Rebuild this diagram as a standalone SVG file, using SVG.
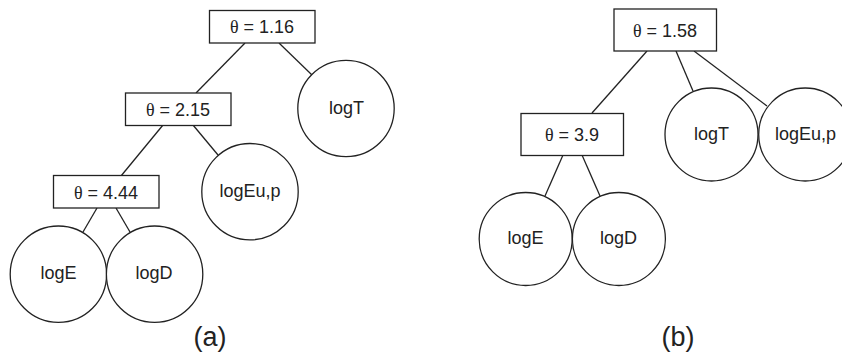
<svg xmlns="http://www.w3.org/2000/svg" width="842" height="357" viewBox="0 0 842 357">
<style>
.box{fill:#fff;stroke:#222;stroke-width:1.3}
.leaf{fill:#fff;stroke:#222;stroke-width:1.3}
.edge{stroke:#222;stroke-width:1.3;fill:none}
text{font-family:"Liberation Sans",Arial,sans-serif;font-size:18px;fill:#222;text-anchor:middle}
.th{font-family:"Liberation Serif","Times New Roman",serif}
.cap{font-size:27px}
</style>
<rect width="842" height="357" fill="#fff"/>
<g id="connectors">
<line class="edge" x1="245" y1="43" x2="196" y2="93"/>
<line class="edge" x1="279" y1="43" x2="312" y2="75"/>
<line class="edge" x1="163" y1="125" x2="121" y2="176"/>
<line class="edge" x1="193" y1="125" x2="218" y2="155"/>
<line class="edge" x1="97" y1="208" x2="83" y2="232"/>
<line class="edge" x1="116" y1="208" x2="130" y2="232"/>
<line class="edge" x1="647" y1="51" x2="592" y2="113"/>
<line class="edge" x1="676" y1="51" x2="693" y2="91"/>
<line class="edge" x1="694" y1="51" x2="767" y2="106"/>
<line class="edge" x1="563" y1="155" x2="545" y2="196"/>
<line class="edge" x1="582" y1="155" x2="600" y2="196"/>
</g>
<g id="a_root"><rect class="box" x="209.5" y="10.5" width="105.5" height="32.5"/><text x="262" y="33"><tspan class="th">θ</tspan> = 1.16</text></g>
<g id="a_n2"><rect class="box" x="125.5" y="93" width="105.5" height="32.5"/><text x="178" y="115.5"><tspan class="th">θ</tspan> = 2.15</text></g>
<g id="a_n3"><rect class="box" x="53.5" y="175.5" width="105.5" height="32.5"/><text x="106" y="198.5"><tspan class="th">θ</tspan> = 4.44</text></g>
<g id="a_logT"><circle class="leaf" cx="346" cy="108.5" r="48.2"/><text x="346.5" y="114">logT</text></g>
<g id="a_logEup"><circle class="leaf" cx="250" cy="191.7" r="48.2"/><text x="250" y="197">logEu,p</text></g>
<g id="a_logE"><circle class="leaf" cx="58.4" cy="274.2" r="48.2"/><text x="58.5" y="279.3">logE</text></g>
<g id="a_logD"><circle class="leaf" cx="154.6" cy="274.2" r="48.2"/><text x="154" y="279.3">logD</text></g>
<text class="cap" x="210" y="346">(a)</text>
<g id="b_root"><rect class="box" x="614" y="9" width="102.5" height="42"/><text x="665" y="36.5"><tspan class="th">θ</tspan> = 1.58</text></g>
<g id="b_n2"><rect class="box" x="521" y="113.5" width="102.5" height="42"/><text x="572" y="141"><tspan class="th">θ</tspan> = 3.9</text></g>
<g id="b_logT"><circle class="leaf" cx="711.5" cy="134.5" r="46.5"/><text x="711.5" y="139.5">logT</text></g>
<g id="b_logEup"><circle class="leaf" cx="805.2" cy="134.5" r="46.5"/><text x="805.5" y="139.5">logEu,p</text></g>
<g id="b_logE"><circle class="leaf" cx="525.7" cy="239" r="46.5"/><text x="525.5" y="244">logE</text></g>
<g id="b_logD"><circle class="leaf" cx="618.9" cy="239" r="46.5"/><text x="618.5" y="244">logD</text></g>
<text class="cap" x="678" y="346">(b)</text>
</svg>
